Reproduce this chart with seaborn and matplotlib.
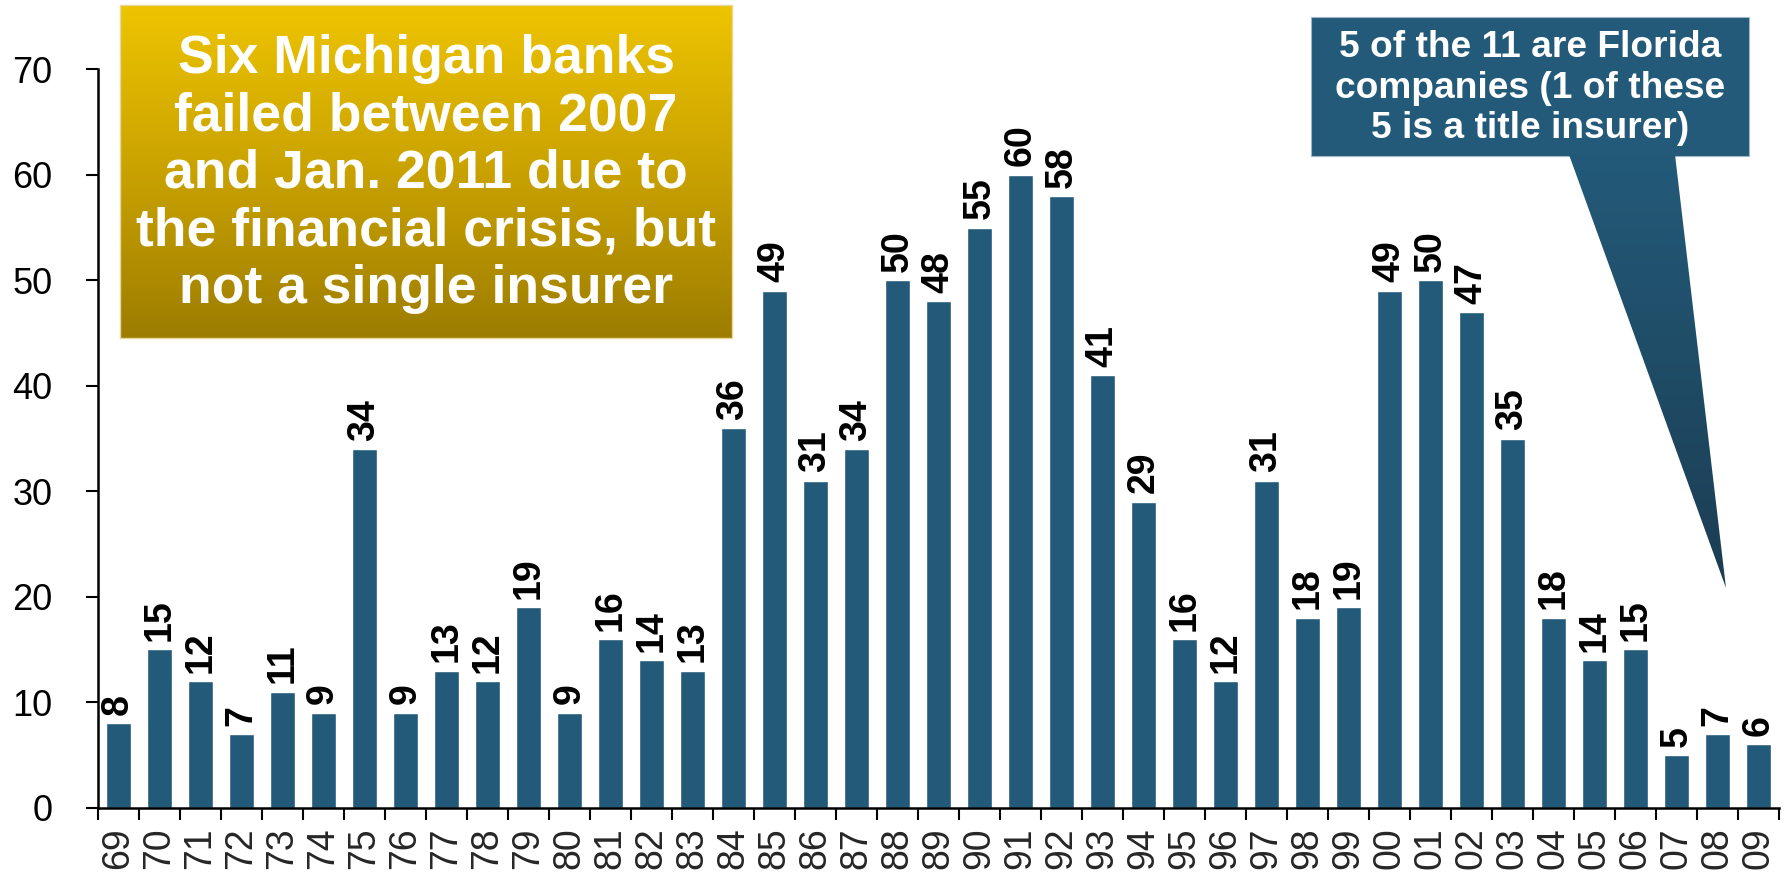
import numpy as np
import pandas as pd
import matplotlib
matplotlib.use("Agg")
import matplotlib.pyplot as plt
import seaborn as sns
from matplotlib.colors import LinearSegmentedColormap
from matplotlib.patches import Rectangle, Polygon
from matplotlib.ticker import FixedLocator

# ---------------- data ----------------
years = ["69", "70", "71", "72", "73", "74", "75", "76", "77", "78", "79",
         "80", "81", "82", "83", "84", "85", "86", "87", "88", "89", "90",
         "91", "92", "93", "94", "95", "96", "97", "98", "99", "00", "01",
         "02", "03", "04", "05", "06", "07", "08", "09"]
failures = [8, 15, 12, 7, 11, 9, 34, 9, 13, 12, 19, 9, 16, 14, 13, 36, 49,
            31, 34, 50, 48, 55, 60, 58, 41, 29, 16, 12, 31, 18, 19, 49, 50,
            47, 35, 18, 14, 15, 5, 7, 6]
y_ticks = [0, 10, 20, 30, 40, 50, 60, 70]

gold_text = ["Six Michigan banks", "failed between 2007", "and Jan. 2011 due to",
             "the financial crisis, but", "not a single insurer"]
callout_text = ["5 of the 11 are Florida", "companies (1 of these",
                "5 is a title insurer)"]

BAR = "#235A79"

sns.set_style("ticks")
plt.rcParams["font.family"] = ["Liberation Sans", "DejaVu Sans"]

W, H = 1787, 873
fig = plt.figure(figsize=(W / 100, H / 100), dpi=100)
ax = fig.add_axes([97.7 / W, 1 - 807.7 / H, (1779 - 97.7) / W, (807.7 - 69.3) / H])

df = pd.DataFrame({"year": years, "failures": failures})
sns.barplot(data=df, x="year", y="failures", order=years, color=BAR,
            saturation=1, width=0.6, ax=ax)

ax.set_xlim(-0.5, len(years) - 0.5)
ax.set_ylim(0, 70)
ax.set_yticks(y_ticks)
ax.set_xlabel("")
ax.set_ylabel("")
for s in ["top", "right"]:
    ax.spines[s].set_visible(False)
for s in ["left", "bottom"]:
    ax.spines[s].set_linewidth(1.8)
    ax.spines[s].set_color("black")

ax.tick_params(axis="y", length=8.5, width=1.5, pad=24, labelsize=26,
               colors="black")
ax.tick_params(axis="x", which="major", length=0, pad=14, labelsize=27,
               labelrotation=90)
ax.xaxis.set_minor_locator(FixedLocator(np.arange(-0.5, len(years), 1.0)))
ax.tick_params(axis="x", which="minor", length=8.5, width=1.5, color="black")
for lbl in ax.get_xticklabels():
    lbl.set_rotation(90)
    lbl.set_va("top")
    lbl.set_ha("center")

ax.bar_label(ax.containers[0], labels=[str(v) for v in failures],
             rotation=90, padding=6, fontsize=27, fontweight="bold",
             color="black")

# ---------------- overlay annotations (pixel coordinates) ----------------
ov = fig.add_axes([0, 0, 1, 1], zorder=5)
ov.set_xlim(0, W)
ov.set_ylim(H, 0)
ov.axis("off")

# gold box with vertical gradient
gold_cmap = LinearSegmentedColormap.from_list("gold", ["#EEC400", "#C9A200", "#9D7D00"])
gx0, gx1, gy0, gy1 = 120, 732, 5, 338
ov.imshow(np.linspace(0, 1, 256).reshape(-1, 1), cmap=gold_cmap, aspect="auto",
          extent=(gx0, gx1, gy1, gy0), interpolation="bilinear", zorder=1)
ov.add_patch(Rectangle((gx0, gy0), gx1 - gx0, gy1 - gy0, fill=False,
                       edgecolor="#E9D79A", linewidth=1.0, zorder=2))
gcx = (gx0 + gx1) / 2
baselines = [73, 130.5, 188, 245.5, 303]
for line, b in zip(gold_text, baselines):
    ov.text(gcx, b, line, ha="center", va="baseline", color="white",
            fontsize=38.5, fontweight="bold", zorder=3)

# callout box
cx0, cx1, cy0, cy1 = 1311, 1749, 16.7, 155.7
ov.add_patch(Rectangle((cx0, cy0), cx1 - cx0, cy1 - cy0, facecolor=BAR,
                       edgecolor="#9FB6C6", linewidth=0.8, zorder=2))
# pointer with gradient
ptr = [(1569, cy1 - 1), (1675, cy1 - 1), (1726, 588)]
poly = Polygon(ptr, closed=True, facecolor="none", edgecolor="none")
ov.add_patch(poly)
ptr_cmap = LinearSegmentedColormap.from_list("ptr", [BAR, "#1B3D52"])
im = ov.imshow(np.linspace(0, 1, 256).reshape(-1, 1), cmap=ptr_cmap, aspect="auto",
               extent=(1560, 1730, 590, cy1 - 1), interpolation="bilinear", zorder=2)
im.set_clip_path(poly)
ccx = (cx0 + cx1) / 2
for line, b in zip(callout_text, [57, 97.5, 138]):
    ov.text(ccx, b, line, ha="center", va="baseline", color="white",
            fontsize=26.7, fontweight="bold", zorder=3)

fig.savefig("out.png", dpi=100)
